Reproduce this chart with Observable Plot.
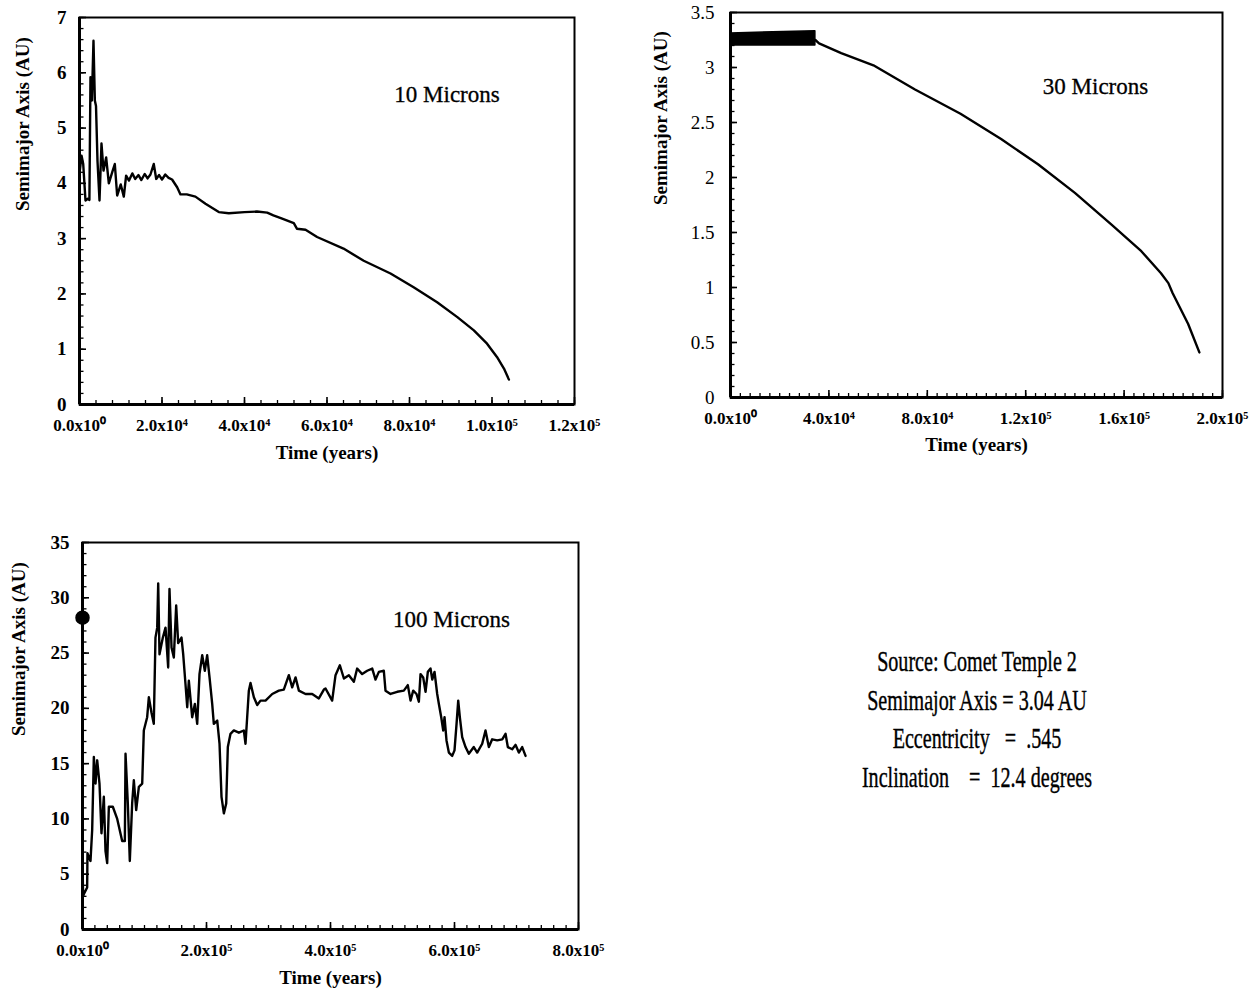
<!DOCTYPE html>
<html>
<head>
<meta charset="utf-8">
<script src="https://cdn.jsdelivr.net/npm/d3@7"></script>
<script src="https://cdn.jsdelivr.net/npm/@observablehq/plot@0.6"></script>
<style>
  html, body { margin: 0; padding: 0; background: #fff; }
  body { width: 1260px; height: 996px; position: relative; overflow: hidden; font-family: "Liberation Serif", serif; }
  .panel { position: absolute; }
  .panel svg { overflow: visible; }
  #info { position: absolute; left: 727px; top: 642px; width: 500px; text-align: center;
          font-family: "Liberation Serif", serif; font-size: 30px; line-height: 38.7px;
          white-space: pre; transform: scaleX(0.67); transform-origin: 50% 0; color: #000;
          -webkit-text-stroke: 0.4px #000; }
</style>
</head>
<body>
<div class="panel" id="p1" style="left:0px;top:0px"></div>
<div class="panel" id="p2" style="left:640px;top:0px"></div>
<div class="panel" id="p3" style="left:0px;top:500px"></div>
<div id="info"></div>
<script>
// ---------- DATA ----------
// Panel 1: 10 microns
const time10 = [0, 500, 900, 1450, 2000, 2400, 2660, 3000, 3390, 3720, 4000, 4360, 4850, 5330, 5820, 6460, 7110, 7920, 8560, 9130, 10000, 10740, 11300, 12000, 12800, 13500, 14300, 15000, 15800, 16500, 17200, 18000, 18600, 19300, 20000, 20800, 21600, 22440, 23670, 24480, 26000, 28100, 30540, 33770, 36200, 40000, 43000, 45500, 47000, 49130, 51950, 52700, 54800, 57600, 64000, 68900, 75400, 81000, 86700, 91600, 95600, 98800, 101200, 102900, 104100];
const axis10 = [4.18, 4.5, 4.35, 3.69, 3.72, 3.7, 5.92, 5.5, 6.58, 5.5, 5.4, 4.41, 3.69, 4.72, 4.23, 4.47, 4.0, 4.2, 4.35, 3.78, 3.98, 3.76, 4.14, 4.05, 4.18, 4.08, 4.15, 4.06, 4.17, 4.09, 4.16, 4.35, 4.08, 4.15, 4.07, 4.16, 4.1, 4.07, 3.93, 3.8, 3.8, 3.76, 3.63, 3.48, 3.46, 3.48, 3.49, 3.47, 3.42, 3.36, 3.28, 3.18, 3.16, 3.03, 2.82, 2.6, 2.37, 2.12, 1.85, 1.58, 1.34, 1.1, 0.86, 0.65, 0.45];

// Panel 2: 30 microns (oscillating band, then a single decaying line)
const bandTime30 = [0, 34500];
const bandLow30 = [3.2, 3.2];
const bandHigh30 = [3.31, 3.33];
const time30 = [34500, 36000, 45000, 58100, 75000, 93500, 110000, 125000, 140000, 155000, 167000, 175000, 178000, 179700, 186000, 190600];
const axis30 = [3.25, 3.22, 3.13, 3.02, 2.80, 2.58, 2.35, 2.12, 1.86, 1.57, 1.33, 1.13, 1.04, 0.95, 0.67, 0.41];

// Panel 3: 100 microns
const time100 = [0, 1000, 2100, 7500, 8000, 12900, 15600, 18300, 21000, 23700, 27400, 30600, 34400, 37100, 39800, 42500, 48900, 56000, 64000, 68300, 69400, 73100, 76300, 80100, 82800, 86600, 90900, 96300, 98900, 104300, 107000, 111300, 115000, 117700, 120500, 122100, 124200, 129600, 133900, 138200, 140300, 143600, 147300, 151100, 154300, 159700, 162400, 166100, 168900, 171500, 176900, 181200, 185000, 188700, 193100, 197300, 201100, 204900, 209200, 211800, 217300, 221000, 224200, 228000, 231800, 234400, 238700, 244100, 252200, 260200, 262900, 265600, 268300, 271000, 276400, 281800, 287100, 295200, 306000, 316700, 324700, 332800, 338200, 343600, 349000, 359700, 370500, 381200, 389300, 392000, 402700, 408100, 415100, 421600, 429600, 437700, 443000, 451100, 459200, 467300, 472600, 478000, 486000, 488700, 496800, 507600, 518300, 524700, 529100, 533400, 538700, 542500, 545200, 549500, 553300, 557000, 561300, 564100, 567800, 572100, 574800, 578600, 581800, 583900, 587100, 590900, 596300, 600000, 603300, 606000, 608600, 612400, 617800, 623100, 631100, 636600, 644700, 650000, 655400, 660800, 668900, 677000, 682300, 686000, 693100, 698400, 703800, 709200, 714600];
const axis100 = [6.0, 3.0, 3.2, 3.8, 6.9, 6.2, 9.0, 15.6, 13.2, 15.3, 13.2, 8.7, 12.0, 7.1, 6.0, 11.1, 11.1, 10.0, 8.0, 8.0, 15.9, 11.4, 6.2, 11.4, 13.5, 10.8, 12.9, 13.2, 18.0, 19.2, 21.0, 19.6, 18.6, 26.4, 27.3, 31.3, 24.9, 26.4, 27.3, 23.7, 30.8, 25.5, 24.6, 29.3, 25.9, 26.4, 24.9, 22.2, 20.1, 22.5, 19.2, 20.4, 18.6, 23.1, 24.8, 23.4, 24.8, 22.8, 20.4, 18.6, 18.9, 16.8, 12.0, 10.5, 11.4, 16.5, 17.7, 18.0, 17.8, 18.0, 16.8, 19.2, 21.6, 22.3, 21.0, 20.3, 20.7, 20.7, 21.3, 21.6, 21.7, 23.0, 21.9, 22.8, 21.6, 21.3, 21.3, 20.9, 21.7, 21.8, 20.7, 23.0, 23.9, 22.7, 23.0, 22.4, 23.6, 23.1, 23.4, 23.6, 22.6, 23.3, 23.4, 21.6, 21.3, 21.5, 21.6, 22.1, 20.7, 21.6, 21.3, 20.6, 23.1, 22.8, 21.5, 23.3, 23.6, 22.6, 23.3, 21.3, 20.4, 19.2, 18.0, 19.2, 17.1, 16.0, 15.7, 16.2, 18.6, 20.7, 19.2, 17.4, 16.5, 15.9, 16.5, 16.0, 16.8, 18.0, 16.5, 17.2, 17.1, 17.2, 17.7, 16.5, 16.3, 16.7, 16.0, 16.5, 15.7];
const startTime100 = [0];
const startAxis100 = [28.2];

// Tick values and labels
const xTicks10 = [0, 20000, 40000, 60000, 80000, 100000, 120000];
const xLabels10 = ["0.0x10⁰", "2.0x10⁴", "4.0x10⁴", "6.0x10⁴", "8.0x10⁴", "1.0x10⁵", "1.2x10⁵"];
const yTicks10 = [0, 1, 2, 3, 4, 5, 6, 7];
const yLabels10 = ["0", "1", "2", "3", "4", "5", "6", "7"];

const xTicks30 = [0, 40000, 80000, 120000, 160000, 200000];
const xLabels30 = ["0.0x10⁰", "4.0x10⁴", "8.0x10⁴", "1.2x10⁵", "1.6x10⁵", "2.0x10⁵"];
const yTicks30 = [0, 0.5, 1, 1.5, 2, 2.5, 3, 3.5];
const yLabels30 = ["0", "0.5", "1", "1.5", "2", "2.5", "3", "3.5"];

const xTicks100 = [0, 200000, 400000, 600000, 800000];
const xLabels100 = ["0.0x10⁰", "2.0x10⁵", "4.0x10⁵", "6.0x10⁵", "8.0x10⁵"];
const yTicks100 = [0, 5, 10, 15, 20, 25, 30, 35];
const yLabels100 = ["0", "5", "10", "15", "20", "25", "30", "35"];

const panelTitles = ["10 Microns", "30 Microns", "100 Microns"];
const xTitle = "Time (years)";
const yTitle = "Semimajor Axis (AU)";
const infoLines = ["Source: Comet Temple 2", "Semimajor Axis = 3.04 AU", "Eccentricity   =  .545", "Inclination    =  12.4 degrees"];

// ---------- CHART ----------
const serif = "Liberation Serif";
const zipRows = (ts, vs) => d3.zip(ts, vs).map(([t, v]) => ({t, v}));

function panel(o) {
  const xMap = new Map(o.xTicks.map((d, i) => [d, o.xLabels[i]]));
  const yMap = new Map(o.yTicks.map((d, i) => [d, o.yLabels[i]]));
  const xMinor = d3.range(o.xDomain[0], o.xDomain[1] + 1e-9, o.xMinorStep);
  const yMinor = d3.range(o.yDomain[0], o.yDomain[1] + 1e-9, o.yMinorStep).map(v => +v.toFixed(4));
  const x0 = o.xDomain[0], y0 = o.yDomain[0];
  // inward tick marks: zero-length rules on the axis lines, extended inward by a negative inset
  const inX = (ticks, len, sw) => Plot.ruleX(ticks, {x: d => d, y1: () => y0, y2: () => y0,
    insetTop: 0, insetBottom: len, stroke: "#000", strokeWidth: sw});
  const inY = (ticks, len, sw) => Plot.ruleY(ticks, {y: d => d, x1: () => x0, x2: () => x0,
    insetLeft: 0, insetRight: -len, stroke: "#000", strokeWidth: sw});
  return Plot.plot({
    width: o.width, height: o.height,
    marginLeft: o.m[0], marginRight: o.m[1], marginTop: o.m[2], marginBottom: o.m[3],
    x: {domain: o.xDomain},
    y: {domain: o.yDomain},
    style: {fontFamily: serif, fontSize: "17px", fontWeight: "bold", background: "transparent", color: "#000", overflow: "visible"},
    marks: [
      ...(o.extraBefore || []),
      Plot.line(o.rows, {x: "t", y: "v", stroke: "#000", strokeWidth: 2.4, strokeLinejoin: "round"}),
      ...(o.extraAfter || []),
      inX(xMinor, 4, 1.3),
      inX(o.xTicks, 7, 1.6),
      inY(yMinor, 4.5, 1.3),
      inY(o.yTicks, 7, 1.6),
      Plot.frame({stroke: "#000", strokeWidth: 2}),
      Plot.ruleX([x0], {stroke: "#000", strokeWidth: 3}),
      Plot.ruleY([y0], {stroke: "#000", strokeWidth: 3}),
      Plot.axisX(o.xTicks, {tickSize: 0, tickPadding: 14, label: null, tickFormat: d => xMap.get(d),
        fontFamily: serif, fontSize: 17, fontWeight: "bold"}),
      Plot.axisY(o.yTicks, {tickSize: 0, tickPadding: o.yPad, label: null, tickFormat: d => yMap.get(d),
        fontFamily: serif, fontSize: 19, fontWeight: o.yWeight}),
      Plot.text([xTitle], {text: d => d, frameAnchor: "bottom", dy: o.xTitleDy,
        fontFamily: serif, fontSize: 19, fontWeight: "bold", fill: "#000"}),
      Plot.text([yTitle], {text: d => d, frameAnchor: "left", dx: o.yTitleDx, rotate: -90,
        fontFamily: serif, fontSize: 19, fontWeight: "bold", fill: "#000"}),
      Plot.text([o.title], {text: d => d, frameAnchor: "top", dx: o.titleDx, dy: o.titleDy,
        fontFamily: serif, fontSize: 23, fontWeight: "normal", fill: "#000", stroke: "#000", strokeWidth: 0.3})
    ]
  });
}

document.getElementById("p1").append(panel({
  rows: zipRows(time10, axis10),
  width: 620, height: 470, m: [79, 46, 17, 66],
  xDomain: [0, 120000], yDomain: [0, 7],
  xTicks: xTicks10, xLabels: xLabels10, xMinorStep: 4000,
  yTicks: yTicks10, yLabels: yLabels10, yMinorStep: 0.2,
  yPad: 13, yWeight: "bold",
  xTitleDy: 54, yTitleDx: -57,
  title: panelTitles[0], titleDx: 120, titleDy: 68
}));

const band30 = bandTime30.map((t, i) => ({t, lo: bandLow30[i], hi: bandHigh30[i]}));
document.getElementById("p2").append(panel({
  rows: zipRows(time30, axis30),
  width: 620, height: 470, m: [90, 38, 12, 73],
  xDomain: [0, 200000], yDomain: [0, 3.5],
  xTicks: xTicks30, xLabels: xLabels30, xMinorStep: 4000,
  yTicks: yTicks30, yLabels: yLabels30, yMinorStep: 0.1,
  yPad: 16, yWeight: "normal",
  xTitleDy: 53, yTitleDx: -70,
  title: panelTitles[1], titleDx: 119, titleDy: 65,
  extraBefore: [Plot.areaY(band30, {x: "t", y1: "lo", y2: "hi", fill: "#000", stroke: "#000", strokeWidth: 1.5})]
}));

document.getElementById("p3").append(panel({
  rows: zipRows(time100, axis100),
  width: 620, height: 496, m: [82, 42, 42, 67],
  xDomain: [0, 800000], yDomain: [0, 35],
  xTicks: xTicks100, xLabels: xLabels100, xMinorStep: 20000,
  yTicks: yTicks100, yLabels: yLabels100, yMinorStep: 1,
  yPad: 13, yWeight: "bold",
  xTitleDy: 54, yTitleDx: -64,
  title: panelTitles[2], titleDx: 121, titleDy: 68,
  extraAfter: [Plot.dot(zipRows(startTime100, startAxis100), {x: "t", y: "v", r: 6.5, fill: "#000", stroke: "#000"})]
}));

document.getElementById("info").textContent = infoLines.join("\n");
</script>
</body>
</html>
